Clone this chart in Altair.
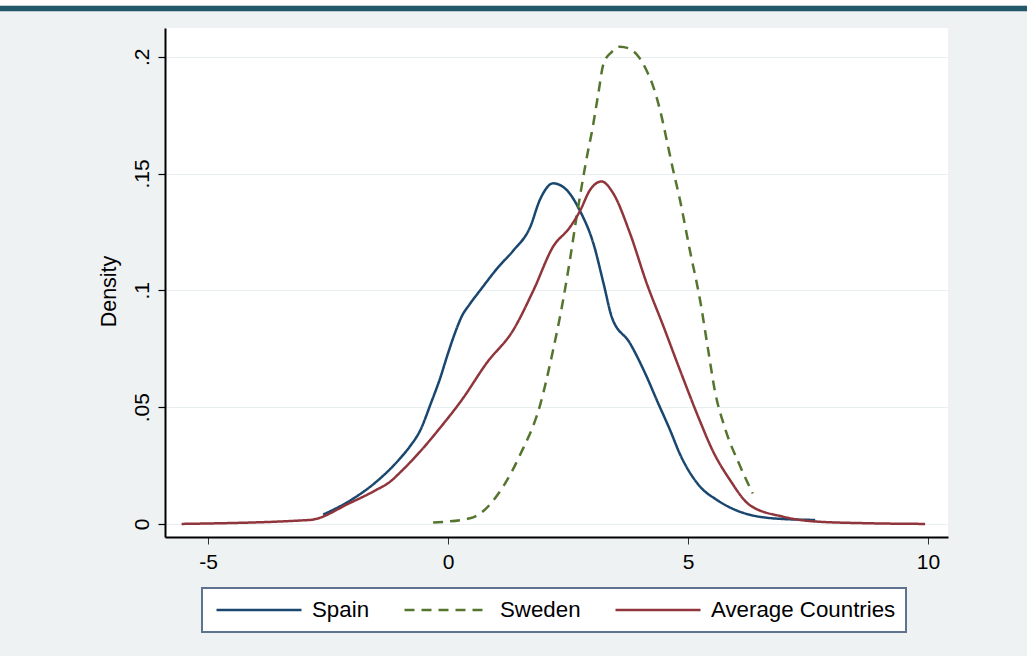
import altair as alt
import pandas as pd

# ---- data ----
series_names = ["Spain", "Sweden", "Average Countries"]

spain_x = [-2.6, -2.04, -1.52, -1.0, -0.8, -0.58, -0.35, -0.17, 0.0, 0.15, 0.29, 0.45, 0.67,
           1.05, 1.36, 1.71, 1.92, 2.19, 2.47, 2.75, 3.03, 3.24, 3.41, 3.79, 4.14, 4.35,
           4.63, 4.83, 5.25, 5.6, 6.29, 6.98, 7.65]
spain_y = [0.004, 0.010, 0.0176, 0.028, 0.033, 0.040, 0.052, 0.062, 0.073, 0.082, 0.089,
           0.094, 0.100, 0.110, 0.117, 0.127, 0.139, 0.1458, 0.143, 0.134, 0.120, 0.103,
           0.0887, 0.0774, 0.063, 0.053, 0.040, 0.030, 0.016, 0.0103, 0.0039, 0.0021, 0.0017]

sweden_x = [-0.31, 0.46, 1.15, 1.5, 1.92, 2.19, 2.40, 2.54, 2.68, 2.82, 2.92, 2.99, 3.13,
            3.24, 3.41, 3.58, 3.76, 3.97, 4.14, 4.28, 4.42, 4.56, 4.69, 4.83, 5.04, 5.25,
            5.42, 5.56, 5.77, 6.08, 6.35]
sweden_y = [0.0006, 0.0024, 0.016, 0.0295, 0.051, 0.0745, 0.096, 0.113, 0.1316, 0.1487,
            0.160, 0.167, 0.184, 0.197, 0.202, 0.2043, 0.2036, 0.200, 0.194, 0.187, 0.177,
            0.164, 0.1515, 0.139, 0.117, 0.096, 0.0745, 0.057, 0.041, 0.025, 0.013]

average_x = [-5.55, -2.88, -2.04, -1.5, -1.21, -1.0, -0.58, -0.17, 0.285, 0.81, 1.36, 1.78,
             2.19, 2.54, 2.75, 2.96, 3.2, 3.44, 3.79, 4.14, 4.49, 4.83, 5.25, 5.5, 5.875,
             6.29, 6.98, 7.68, 8.72, 9.94]
average_y = [0.0, 0.0017, 0.009, 0.0145, 0.018, 0.022, 0.031, 0.041, 0.053, 0.069, 0.083,
             0.100, 0.1187, 0.127, 0.134, 0.143, 0.1466, 0.1416, 0.1245, 0.103, 0.0845,
             0.066, 0.044, 0.032, 0.0188, 0.008, 0.0031, 0.001, 0.0003, 0.0]

x_ticks = [-5, 0, 5, 10]
y_ticks = [0, 0.05, 0.1, 0.15, 0.2]

series_colors = ["#1A476F", "#55752F", "#90353B"]
series_dashes = [[1, 0], [10, 7], [1, 0]]

rows = []
for name, xs, ys in [("Spain", spain_x, spain_y),
                     ("Sweden", sweden_x, sweden_y),
                     ("Average Countries", average_x, average_y)]:
    for a, b in zip(xs, ys):
        rows.append({"country": name, "x": a, "density": b})
df = pd.DataFrame(rows)

FONT = "Liberation Sans"

legend_common = dict(
    title=None,
    orient="none",
    legendX=37,
    legendY=560,
    direction="horizontal",
    columns=3,
)

lines = alt.Chart(df).mark_line(strokeWidth=2.5, interpolate="monotone").encode(
    x=alt.X("x:Q",
            scale=alt.Scale(domain=[-5.896, 10.417], nice=False, zero=False),
            axis=alt.Axis(values=x_ticks, grid=False, title="", domainColor="black",
                          domainWidth=2, tickColor="#333333", tickSize=7, tickWidth=1,
                          labelExpr="'' + datum.value",
                          labelFontSize=21, labelFont=FONT, labelColor="black",
                          labelPadding=7, labelFlush=False)),
    y=alt.Y("density:Q",
            scale=alt.Scale(domain=[-0.0056, 0.2123], nice=False, zero=False),
            axis=alt.Axis(values=y_ticks, grid=True, gridColor="#E8EFF0", gridWidth=1,
                          domainColor="black", domainWidth=2, tickColor="black",
                          tickSize=7, tickWidth=1.2,
                          labelExpr="datum.value == 0 ? '0' : replace(format(datum.value, '.2~f'), '0.', '.')",
                          labelAngle=270, labelAlign="center", labelBaseline="alphabetic",
                          labelPadding=10, labelFontSize=21, labelFont=FONT,
                          labelColor="black", labelFlush=False,
                          title="Density", titleAngle=270, titleFont=FONT,
                          titleFontSize=21.5, titleFontWeight="normal", titleColor="black",
                          titleX=-50, titleY=263, titleAlign="center",
                          titleBaseline="alphabetic")),
    color=alt.Color("country:N",
                    scale=alt.Scale(domain=series_names, range=series_colors),
                    legend=alt.Legend(**legend_common)),
    strokeDash=alt.StrokeDash("country:N",
                              scale=alt.Scale(domain=series_names, range=series_dashes),
                              legend=alt.Legend(**legend_common)),
)

top_bar = alt.Chart(pd.DataFrame({"a": [0]})).mark_rule(
    color="#22596A", strokeWidth=5.5, clip=False
).encode(x=alt.value(-165), x2=alt.value(862), y=alt.value(-19.5))

top_white = alt.Chart(pd.DataFrame({"a": [0]})).mark_rule(
    color="#FFFFFF", strokeWidth=5.5, clip=False
).encode(x=alt.value(-165), x2=alt.value(862), y=alt.value(-25.3))

chart = alt.layer(top_white, top_bar, lines).properties(
    width=783,
    height=509,
    autosize=alt.AutoSizeParams(type="none"),
    padding={"left": 165, "top": 28, "right": 79, "bottom": 119},
    background="#EEF2F3",
).configure_view(
    fill="white", strokeWidth=0
).configure_legend(
    symbolType="stroke",
    symbolSize=7225,
    symbolStrokeWidth=2.5,
    labelFontSize=22.3,
    labelFont=FONT,
    labelColor="black",
    labelLimit=400,
    padding=10,
    fillColor="white",
    strokeColor="#5D7390",
    strokeWidth=2,
    columnPadding=30,
    symbolOffset=3,
    labelOffset=9,
    clipHeight=24,
)

chart.save("out.html", embed_options={"renderer": "svg", "actions": False})
